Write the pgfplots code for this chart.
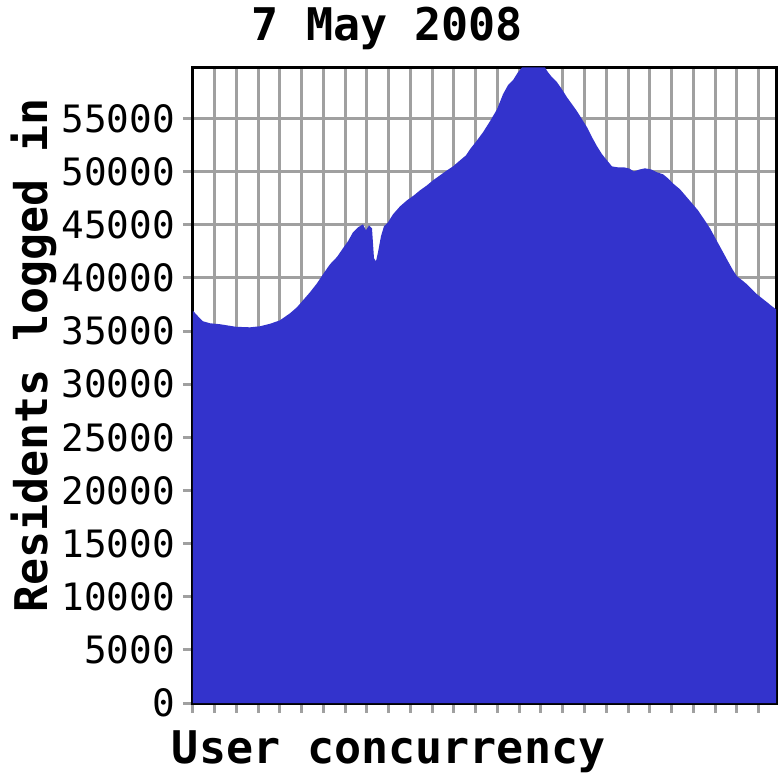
\documentclass[border=0pt]{standalone}
\usepackage{fontspec}
\setmonofont{DejaVu Sans Mono}
\usepackage{pgfplots}
\pgfplotsset{compat=1.18}

\definecolor{areablue}{HTML}{3333CC}
\definecolor{gridgrey}{HTML}{A0A0A0}

% x is the distance from the left edge of the axis, in the picture's pixels
\pgfplotstableread{
x v
0 36900
5 36390
10 35920
17 35730
27 35640
43 35400
57 35350
67 35450
77 35680
87 36010
97 36670
104 37240
110 37890
117 38650
124 39490
130 40340
137 41280
144 41970
150 42790
155 43450
160 44290
165 44760
170 45040
173 44480
176 44950
179 44670
181 41850
183 41560
185 42410
188 43920
191 44860
195 45230
200 45980
207 46730
214 47300
221 47770
227 48240
234 48710
240 49180
247 49650
254 50120
260 50490
267 51060
273 51530
277 52100
284 52940
290 53700
297 54740
304 55860
310 57280
315 58130
320 58600
325 59350
329 59800
352 59800
355 59350
359 58880
364 58410
369 57740
374 56990
379 56340
384 55680
389 54930
394 54180
399 53240
404 52390
409 51640
414 51060
419 50490
425 50400
431 50400
436 50300
441 50020
447 50210
452 50310
458 50210
464 49940
470 49750
475 49370
481 48810
487 48340
493 47680
499 47020
505 46360
511 45520
517 44670
523 43630
529 42600
535 41560
540 40720
544 40150
549 39780
554 39400
559 38930
564 38460
569 38080
574 37710
579 37330
583 37050
}\concurrency

\begin{document}
\begin{tikzpicture}
\begin{axis}[
    at={(0pt,0pt)}, anchor=south west,
    scale only axis,
    width=583pt, height=635pt,
    xmin=0, xmax=583,
    ymin=0, ymax=59750,
    xtick distance=21.75,
    xticklabels={},
    ytick={0,5000,...,55000},
    scaled y ticks=false,
    grid=major,
    grid style={gridgrey, line width=3pt},
    axis line style={black, line width=3pt},
    tick pos=left,
    tick align=outside,
    major tick length=10pt,
    tick style={gridgrey, line width=3pt},
    yticklabel style={
        /pgf/number format/fixed,
        /pgf/number format/1000 sep={},
        /pgf/number format/assume math mode=true,
        font=\ttfamily\fontsize{37.7}{40}\selectfont,
        inner sep=0pt, xshift=-8pt},
    title={7 May 2008},
    title style={at={(axis description cs:0.1007,1.0346)}, anchor=base west,
        inner sep=0pt, font=\ttfamily\bfseries\fontsize{45}{50}\selectfont},
    xlabel={User concurrency},
    xlabel style={at={(axis description cs:-0.0365,-0.0950)}, anchor=base west,
        inner sep=0pt, font=\ttfamily\bfseries\fontsize{45}{50}\selectfont},
    ylabel={Residents logged in},
    ylabel style={at={(axis description cs:-0.2504,0.1417)}, anchor=base west,
        inner sep=0pt, font=\ttfamily\bfseries\fontsize{45}{50}\selectfont},
]
\addplot[fill=areablue, draw=none] table[x=x, y=v] {\concurrency} \closedcycle;
\end{axis}
\pgfresetboundingbox
\useasboundingbox (-193pt,-77pt) rectangle (587pt,703pt);
\end{tikzpicture}
\end{document}
